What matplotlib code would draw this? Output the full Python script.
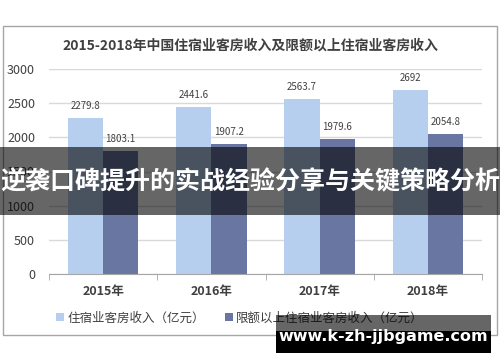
import matplotlib
matplotlib.use("Agg")
import matplotlib.pyplot as plt
from matplotlib.patches import Rectangle
import numpy as np

plt.rcParams['font.family'] = ['Noto Sans CJK SC', 'DejaVu Sans']

years = ['2015年', '2016年', '2017年', '2018年']
total_income = [2279.8, 2441.6, 2563.7, 2692]
above_quota = [1803.1, 1907.2, 1979.6, 2054.8]
series_names = ['住宿业客房收入（亿元）', '限额以上住宿业客房收入（亿元）']
title = '2015-2018年中国住宿业客房收入及限额以上住宿业客房收入'
banner = '逆袭口碑提升的实战经验分享与关键策略分析'
watermark = 'www.k-zh-jjbgame.com'

c_light = '#b6cfee'
c_dark = '#6a76a2'
W, H = 500, 362

fig = plt.figure(figsize=(5, 3.62), dpi=100)
fig.patch.set_facecolor('white')

def fx(px):
    return px / W

def fy(py):
    return 1 - py / H

# outer frame
fig.add_artist(Rectangle((fx(3), fy(335)), fx(494), 309 / H, transform=fig.transFigure,
                         fill=False, edgecolor='#a6a6a6', linewidth=1))

ax = fig.add_axes([fx(49), fy(274), fx(433), (274 - 69) / H])
x = np.arange(len(years))
bw = 0.325
b1 = ax.bar(x - bw / 2, total_income, bw, color=c_light, zorder=2, label=series_names[0])
b2 = ax.bar(x + bw / 2, above_quota, bw, color=c_dark, zorder=2, label=series_names[1])

for xi, v in zip(x, total_income):
    ax.text(xi - bw / 2, v + 100, f'{v:g}', ha='center', va='bottom', fontsize=7, color='#404040', zorder=3)
for xi, v in zip(x, above_quota):
    ax.text(xi + bw / 2, v + 100, f'{v:g}', ha='center', va='bottom', fontsize=7, color='#404040', zorder=3)

ax.set_xlim(-0.5, 3.5)
ax.set_ylim(0, 3000)
ax.set_yticks(np.arange(0, 3001, 500))
ax.set_xticks(x)
ax.set_xticklabels(years, fontsize=9, color='#404040', fontweight='bold')
ax.set_xticks(np.arange(-0.5, 3.6, 1), minor=True)
ax.tick_params(axis='x', which='major', length=0, pad=8)
ax.tick_params(axis='x', which='minor', length=4, color='#a6a6a6')
ax.tick_params(axis='y', length=0, labelsize=9, labelcolor='#404040', pad=10)
ax.grid(axis='y', color='#d9d9d9', linewidth=1, zorder=0)
for s in ['top', 'right', 'left']:
    ax.spines[s].set_visible(False)
ax.spines['bottom'].set_color('#a6a6a6')
ax.set_facecolor('none')

fig.text(0.5, fy(46), title, ha='center', va='center', fontsize=10, fontweight='bold', color='#404040')

leg = fig.legend(handles=[b1, b2], labels=series_names, loc='center', bbox_to_anchor=(fx(240), fy(318)),
                 ncol=2, frameon=False, fontsize=9, handlelength=0.6, handleheight=0.6,
                 handletextpad=0.3, columnspacing=1.6, labelcolor='#404040')

# dark banner overlay
fig.add_artist(Rectangle((0, fy(215)), 1, 68 / H, transform=fig.transFigure,
                         facecolor='black', alpha=0.6, edgecolor='none', zorder=10))
fig.text(0.5, fy(182), banner, ha='center', va='center', fontsize=18, fontweight='bold',
         color='white', zorder=11)

# watermark box
fig.add_artist(Rectangle((fx(276), fy(353)), fx(215), 38 / H, transform=fig.transFigure,
                         facecolor='black', alpha=0.6, edgecolor='none', zorder=10))
fig.add_artist(Rectangle((fx(276), fy(353)), fx(215), 22 / H, transform=fig.transFigure,
                         facecolor='black', edgecolor='none', zorder=10))
fig.text(fx(383), fy(336), watermark, ha='center', va='center', fontsize=11.5, fontweight='bold',
         color='white', family='DejaVu Sans', zorder=11)

fig.savefig('out.png', dpi=100)
